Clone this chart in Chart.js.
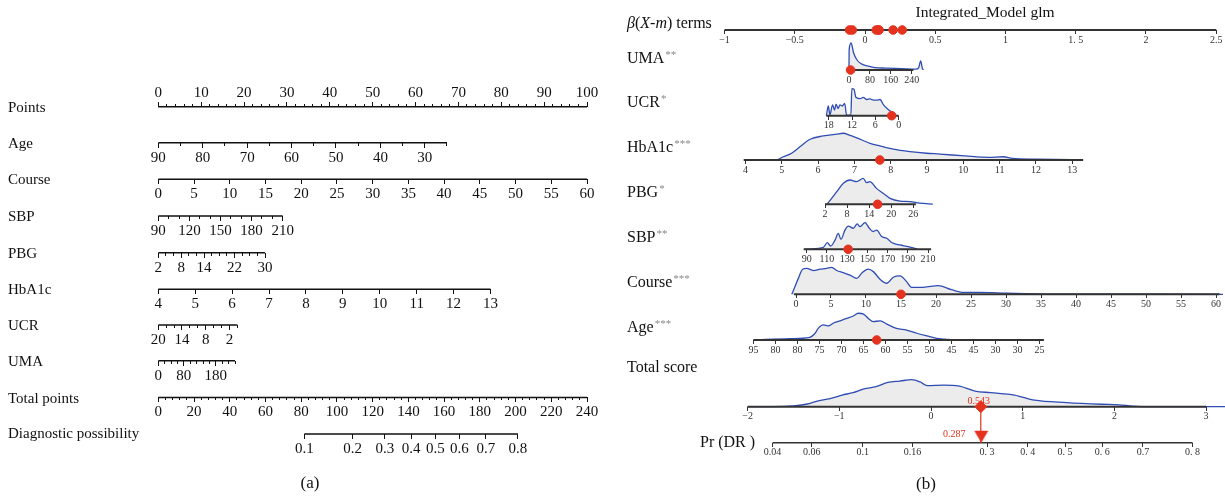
<!DOCTYPE html>
<html>
<head>
<meta charset="utf-8">
<script src="https://cdn.jsdelivr.net/npm/chart.js@4.4.1/dist/chart.umd.min.js"></script>
<style>
html, body { margin: 0; padding: 0; background: #fff; }
#wrap { position: relative; width: 1225px; height: 498px; font-family: "Liberation Serif", "DejaVu Serif", serif; color: #111; }
#wrap canvas { position: absolute; left: 0; top: 0; }
.lab { position: absolute; white-space: nowrap; line-height: 1; transform: translateY(-50%); }
.a { font-size: 15px; }
.b { font-size: 16px; }
.st { font-size: 11px; color: #888; position: relative; top: -5px; margin-left: 1px; }
.cap { position: absolute; font-size: 17px; line-height: 1; transform: translate(-50%, -50%); }
</style>
</head>
<body>
<div id="wrap">
  <canvas id="nomo" width="1225" height="498"></canvas>

  <div class="lab a" style="left:8px;top:106.7px">Points</div>
  <div class="lab a" style="left:8px;top:142.7px">Age</div>
  <div class="lab a" style="left:8px;top:179.3px">Course</div>
  <div class="lab a" style="left:8px;top:216px">SBP</div>
  <div class="lab a" style="left:8px;top:252.7px">PBG</div>
  <div class="lab a" style="left:8px;top:289.3px">HbA1c</div>
  <div class="lab a" style="left:8px;top:325px">UCR</div>
  <div class="lab a" style="left:8px;top:360.7px">UMA</div>
  <div class="lab a" style="left:8px;top:397.5px">Total points</div>
  <div class="lab a" style="left:8px;top:432.5px">Diagnostic possibility</div>
  <div class="cap" style="left:310px;top:482px">(a)</div>

  <div class="cap" style="left:985px;top:12px;font-size:15.5px">Integrated_Model glm</div>
  <div class="lab b" style="left:627px;top:23.3px"><i>β</i>(<i>X</i>-<i>m</i>) terms</div>
  <div class="lab b" style="left:627px;top:58.3px">UMA<span class="st">**</span></div>
  <div class="lab b" style="left:627px;top:101.7px">UCR<span class="st">*</span></div>
  <div class="lab b" style="left:627px;top:146.7px">HbA1c<span class="st">***</span></div>
  <div class="lab b" style="left:627px;top:191.7px">PBG<span class="st">*</span></div>
  <div class="lab b" style="left:627px;top:236.7px">SBP<span class="st">**</span></div>
  <div class="lab b" style="left:627px;top:281.7px">Course<span class="st">***</span></div>
  <div class="lab b" style="left:627px;top:326.7px">Age<span class="st">***</span></div>
  <div class="lab b" style="left:627px;top:366.7px">Total score</div>
  <div class="lab b" style="left:700px;top:441.7px">Pr (DR )</div>
  <div class="cap" style="left:926px;top:483px">(b)</div>
</div>

<script>
const FONT = '"Liberation Serif", "DejaVu Serif", serif';
const RED = '#e5321f', BLUE = '#2f4db3', FILL = '#ececec', DARK = '#333';
const W = 1225, H = 498;
const logit = p => Math.log(p / (1 - p));
const range = (a, b, s) => {
    const out = [];
    for (let v = a; s > 0 ? v <= b + 1e-9 : v >= b - 1e-9; v += s) out.push(+v.toFixed(6));
    return out;
};

// ---------- panel (a) tick labels ----------
const pointsTicks = [0, 10, 20, 30, 40, 50, 60, 70, 80, 90, 100];
const ageTicksA = [90, 80, 70, 60, 50, 40, 30];
const courseTicksA = [0, 5, 10, 15, 20, 25, 30, 35, 40, 45, 50, 55, 60];
const sbpTicksA = [90, 120, 150, 180, 210];
const pbgTicksA = [2, 8, 14, 22, 30];
const hba1cTicksA = [4, 5, 6, 7, 8, 9, 10, 11, 12, 13];
const ucrTicksA = [20, 14, 8, 2];
const umaTicksA = [0, 80, 180];
const totalTicksA = [0, 20, 40, 60, 80, 100, 120, 140, 160, 180, 200, 220, 240];
const diagTicksA = [0.1, 0.2, 0.3, 0.4, 0.5, 0.6, 0.7, 0.8];

// ---------- panel (b) tick labels ----------
const betaTicks = [-1, -0.5, 0, 0.5, 1, 1.5, 2, 2.5];
const betaLabels = ['−1', '−0.5', '0', '0.5', '1', '1. 5', '2', '2.5'];
const umaTicksB = [0, 80, 160, 240];
const ucrTicksB = [18, 12, 6, 0];
const hba1cTicksB = [4, 5, 6, 7, 8, 9, 10, 11, 12, 13];
const pbgTicksB = [2, 8, 14, 20, 26];
const sbpTicksB = [90, 110, 130, 150, 170, 190, 210];
const courseTicksB = [0, 5, 10, 15, 20, 25, 30, 35, 40, 45, 50, 55, 60];
const ageTicksB = [90, 85, 80, 75, 70, 65, 60, 55, 50, 45, 40, 35, 30, 25];
const ageLabelsB = ['95', '80', '80', '75', '70', '65', '60', '55', '50', '45', '45', '30', '30', '25'];
const totalTicksB = [-2, -1, 0, 1, 2, 3];
const totalLabelsB = ['−2', '−1', '0', '1', '2', '3'];
const prTicks = [0.04, 0.06, 0.1, 0.16, 0.3, 0.4, 0.5, 0.6, 0.7, 0.8];
const prLabels = ['0.04', '0.06', '0.1', '0.16', '0. 3', '0. 4', '0. 5', '0. 6', '0.7', '0. 8'];

// ---------- panel (b) densities: [value, relative density] ----------
const umaDensity = [[0, 0], [0.5, 0.74], [8, 1.0], [18, 0.62], [30, 0.38], [45, 0.24], [70, 0.15], [100, 0.09],
    [140, 0.07], [200, 0.05], [255, 0.03], [266, 0.08], [274, 0.34], [280, 0.07], [284, 0]];
const ucrDensity = [[18.6, 0], [18.1, 0.36], [17.7, 0.03], [17.0, 0.4], [16.5, 0.21], [16.1, 0.43], [15.6, 0.27],
    [15.1, 0.4], [14.5, 0.36], [13.9, 0.46], [13.4, 0.03], [12.3, 0.02], [12.05, 1.0], [11.5, 0.98], [11.0, 0.68],
    [9.9, 0.63], [9.1, 0.68], [8.2, 0.6], [7.4, 0.62], [6.5, 0.58], [5.7, 0.58], [4.8, 0.6], [3.9, 0.4],
    [2.7, 0.23], [1.5, 0.09], [1.0, 0]];
const hba1cDensity = [[4.0, 0], [4.3, 0], [4.86, 0.01], [5.04, 0.12], [5.27, 0.25], [5.5, 0.49], [5.78, 0.77],
    [6.14, 0.89], [6.51, 0.96], [6.69, 0.99], [6.88, 0.91], [7.15, 0.77], [7.43, 0.62], [7.7, 0.52], [8.07, 0.4],
    [8.53, 0.31], [8.99, 0.25], [9.36, 0.22], [10.05, 0.15], [10.7, 0.1], [11.1, 0.12], [11.35, 0.06],
    [12.0, 0.03], [13.0, 0.01], [13.3, 0]];
const pbgDensity = [[2.5, 0], [3.8, 0.22], [5.2, 0.47], [7.0, 0.78], [8.8, 0.9], [10.6, 0.84], [12.4, 0.96],
    [13.3, 0.8], [14.2, 0.84], [16.0, 0.59], [17.8, 0.41], [19.7, 0.22], [22.4, 0.12], [25.1, 0.1], [27.8, 0.04],
    [31.3, 0.01]];
const sbpDensity = [[88, 0], [93, 0.01], [106.4, 0.07], [110.4, 0.25], [113.7, 0.12], [118, 0.34], [121.2, 0.59],
    [123.9, 0.37], [127.8, 0.71], [131.1, 0.86], [136, 0.78], [140, 0.94], [142.7, 0.84], [147.6, 0.99],
    [151.9, 0.78], [155.8, 0.66], [159.2, 0.71], [164.1, 0.47], [169.1, 0.41], [174, 0.25], [182.2, 0.16],
    [190.4, 0.1], [197, 0.03], [200, 0]];
const courseDensity = [[-0.6, 0], [-0.14, 0.29], [0.33, 0.59], [0.95, 0.93], [1.52, 0.96], [2.48, 0.88],
    [3.43, 0.93], [4.38, 0.96], [5.1, 1.0], [5.81, 0.88], [6.76, 0.8], [7.71, 0.71], [8.67, 0.59], [9.38, 0.78],
    [10.33, 0.93], [11.05, 0.84], [12.0, 0.56], [12.95, 0.41], [13.9, 0.63], [14.86, 0.68], [15.8, 0.47],
    [16.5, 0.26], [18.2, 0.26], [20.3, 0.32], [22.2, 0.17], [23.9, 0.07], [26.2, 0.07], [30.2, 0.04],
    [35.8, 0.01], [45, 0.005], [61, 0]];
const ageDensity = [[90, 0], [81.7, 0.05], [77.2, 0.1], [76, 0.25], [75.3, 0.43], [74.1, 0.56], [73, 0.52],
    [71.9, 0.62], [70.3, 0.71], [68.8, 0.8], [67.3, 0.89], [66.2, 0.99], [65, 0.96], [63.9, 0.8], [62.8, 0.68],
    [61.2, 0.71], [59.7, 0.59], [57.5, 0.43], [55.2, 0.37], [52.9, 0.25], [50.6, 0.15], [48.4, 0.06],
    [45, 0.01], [40, 0]];
const totalDensity = [[-2, 0], [-1.6, 0.01], [-1.5, 0.03], [-1.35, 0.1], [-1.25, 0.2], [-1.1, 0.3], [-0.97, 0.43],
    [-0.85, 0.52], [-0.73, 0.66], [-0.6, 0.74], [-0.47, 0.9], [-0.34, 0.95], [-0.21, 1.0], [-0.12, 0.92],
    [-0.04, 0.78], [0.14, 0.8], [0.31, 0.76], [0.48, 0.58], [0.65, 0.52], [0.91, 0.43], [1.13, 0.24],
    [1.48, 0.15], [1.86, 0.09], [2.05, 0.07], [2.2, 0.02], [2.4, 0], [3.25, 0]];

// observation shown in (b), and its beta terms (UMA, UCR, HbA1c, PBG, SBP, Course, Age)
const obsValues = [6, 1.8, 7.7, 16.3, 131, 15, 62];
const betaTerms = [-0.09, 0.2, 0.1, 0.095, -0.11, 0.265, 0.08];
const scoreValue = 0.543;
const probValue = 0.287;

// ---------- scale helpers ----------
const scales = {};
const datasets = [];

function yAt(id, basePx, unitPx) {
    scales[id] = { type: 'linear', axis: 'y', display: false, min: -(H - basePx) / unitPx, max: basePx / unitPx };
}
function xAt(a, pa, b, pb) {
    const k = (pb - pa) / (b - a);
    const lo = a - pa / k, hi = a + (W - pa) / k;
    return k < 0
        ? { type: 'linear', axis: 'x', min: hi, max: lo, reverse: true }
        : { type: 'linear', axis: 'x', min: lo, max: hi };
}
function tickAxis(id, yId, vals, labels, o) {
    Object.assign(scales[id], {
        position: { [yId]: 0 },
        border: { display: false },
        grid: { display: true, drawOnChartArea: false, drawTicks: true, tickLength: o.tl, color: o.color, tickWidth: 1 },
        ticks: {
            display: !!labels, autoSkip: false, maxRotation: 0, minRotation: 0, padding: o.pad || 0,
            color: o.color, font: { family: FONT, size: o.size || 15 },
            callback: (v, i) => labels ? labels[i] : ''
        },
        afterBuildTicks: s => { s.ticks = vals.map(v => ({ value: v })); },
        afterFit: s => { s.paddingLeft = 0; s.paddingRight = 0; s.paddingTop = 0; s.paddingBottom = 0; }
    });
}
function axisLine(xId, yId, from, to, color, width) {
    datasets.push({
        data: [{ x: from, y: 0 }, { x: to, y: 0 }], xAxisID: xId, yAxisID: yId,
        borderColor: color, borderWidth: width, pointRadius: 0, order: 2
    });
}

// ---------- panel (a) layout ----------
const rowsA = [
    { y: 106.7, a: 0, pa: 158.3, b: 100, pb: 587, from: 0, to: 100, ticks: pointsTicks, minor: range(0, 100, 2), up: true },
    { y: 142.7, a: 90, pa: 158.3, b: 25, pb: 447, from: 90, to: 25, ticks: ageTicksA, minor: range(90, 25, -5) },
    { y: 179.3, a: 0, pa: 158.3, b: 60, pb: 587, from: 0, to: 60, ticks: courseTicksA },
    { y: 216, a: 90, pa: 158.3, b: 210, pb: 282.7, from: 90, to: 210, ticks: sbpTicksA, minor: range(90, 210, 10) },
    { y: 252.7, a: 2, pa: 158.3, b: 30, pb: 265, from: 2, to: 30, ticks: pbgTicksA, minor: range(2, 30, 2) },
    { y: 289.3, a: 4, pa: 158.3, b: 13, pb: 490.5, from: 4, to: 13, ticks: hba1cTicksA },
    { y: 325, a: 20, pa: 158.3, b: 0, pb: 237.3, from: 20, to: 0, ticks: ucrTicksA, minor: range(20, 0, -2) },
    { y: 360.7, a: 0, pa: 158.3, b: 240, pb: 235, from: 0, to: 240, ticks: umaTicksA, minor: range(0, 240, 20) },
    { y: 397.5, a: 0, pa: 158.3, b: 240, pb: 587, from: 0, to: 240, ticks: totalTicksA, minor: range(0, 240, 4) },
    { y: 434, a: 0, pa: 435.3, b: logit(0.8), pb: 517.9, from: logit(0.1), to: logit(0.8),
      ticks: diagTicksA.map(logit), labels: diagTicksA.map(String) }
];

rowsA.forEach((r, i) => {
    const yId = 'ya' + i, xId = 'xa' + i;
    yAt(yId, r.y, 1);
    scales[xId] = xAt(r.a, r.pa, r.b, r.pb);
    const labels = r.labels || r.ticks.map(String);
    tickAxis(xId, yId, r.ticks, labels, r.up
        ? { tl: -5, pad: -18, color: '#111', size: 15 }
        : { tl: 5, pad: 1, color: '#111', size: 15 });
    if (r.minor) {
        scales[xId + 'm'] = xAt(r.a, r.pa, r.b, r.pb);
        tickAxis(xId + 'm', yId, r.minor, null, { tl: r.up ? -3 : 3, color: '#111' });
    }
    axisLine(xId, yId, r.from, r.to, '#111', 1.5);
});

// ---------- panel (b) layout ----------
const rowsB = [
    { y: 70, a: 0, pa: 849, b: 240, pb: 911.8, from: 0, to: 246, ticks: umaTicksB, density: umaDensity },
    { y: 115.7, a: 0, pa: 898.7, b: 18, pb: 828.7, from: 18.6, to: 0, ticks: ucrTicksB, density: ucrDensity },
    { y: 160, a: 4, pa: 745.5, b: 13, pb: 1072.2, from: 3.95, to: 13.3, ticks: hba1cTicksB, density: hba1cDensity },
    { y: 204.3, a: 2, pa: 825, b: 26, pb: 913.3, from: 2, to: 26.7, ticks: pbgTicksB, density: pbgDensity },
    { y: 249.3, a: 90, pa: 806.7, b: 210, pb: 928.1, from: 87, to: 213, ticks: sbpTicksB, density: sbpDensity },
    { y: 294.3, a: 0, pa: 796, b: 60, pb: 1216, from: -0.3, to: 60.5, ticks: courseTicksB, density: courseDensity },
    { y: 340, a: 90, pa: 753.5, b: 25, pb: 1039.5, from: 90, to: 24, ticks: ageTicksB, labels: ageLabelsB, density: ageDensity }
];
const smallTicks = { tl: 4, pad: 0, color: DARK, size: 10 };

// beta terms axis
yAt('yBeta', 30, 27);
scales.xBeta = xAt(0, 865, 1, 1005.5);
tickAxis('xBeta', 'yBeta', betaTicks, betaLabels, smallTicks);
axisLine('xBeta', 'yBeta', -1, 2.5, DARK, 2);
datasets.push({
    data: betaTerms.map(v => ({ x: v, y: 0 })), xAxisID: 'xBeta', yAxisID: 'yBeta', showLine: false,
    pointRadius: 4.3, pointBackgroundColor: RED, pointBorderColor: RED, order: 0
});

rowsB.forEach((r, i) => {
    const yId = 'yb' + i, xId = 'xb' + i;
    yAt(yId, r.y, 27);
    scales[xId] = xAt(r.a, r.pa, r.b, r.pb);
    tickAxis(xId, yId, r.ticks, r.labels || r.ticks.map(String), smallTicks);
    datasets.push({
        data: r.density.map(d => ({ x: d[0], y: d[1] })), xAxisID: xId, yAxisID: yId,
        borderColor: BLUE, borderWidth: 1.3, backgroundColor: FILL, fill: { value: 0 },
        pointRadius: 0, cubicInterpolationMode: 'monotone', order: 3
    });
    axisLine(xId, yId, r.from, r.to, DARK, 2);
    datasets.push({
        data: [{ x: obsValues[i], y: 0 }], xAxisID: xId, yAxisID: yId, showLine: false,
        pointRadius: 4.3, pointBackgroundColor: RED, pointBorderColor: RED, order: 0
    });
});

// total score and probability
yAt('yTot', 406.7, 27);
scales.xTot = xAt(0, 931, 1, 1022.7);
tickAxis('xTot', 'yTot', totalTicksB, totalLabelsB, smallTicks);
datasets.push({
    label: 'totalDensity',
    data: totalDensity.map(d => ({ x: d[0], y: d[1] })), xAxisID: 'xTot', yAxisID: 'yTot',
    borderColor: BLUE, borderWidth: 1.3, backgroundColor: FILL, fill: { value: 0 },
    pointRadius: 0, cubicInterpolationMode: 'monotone', order: 3
});
axisLine('xTot', 'yTot', -2, 3, DARK, 2);

yAt('yPr', 442.7, 27);
scales.xPr = xAt(0, 1065, 1, 1157);
tickAxis('xPr', 'yPr', prTicks.map(logit), prLabels, smallTicks);
axisLine('xPr', 'yPr', logit(0.04), logit(0.8), DARK, 1.5);

// link from the score axis (1) down to the probability axis (0)
yAt('yLink', 442.7, 36);
datasets.push({
    data: [{ x: scoreValue, y: 1 }, { x: scoreValue, y: 0 }], xAxisID: 'xTot', yAxisID: 'yLink',
    borderColor: RED, borderWidth: 1.2, pointRadius: 0, order: 1
});
datasets.push({
    data: [{ x: scoreValue, y: 0 }], xAxisID: 'xTot', yAxisID: 'yTot', showLine: false,
    pointStyle: 'rectRot', pointRadius: 6, pointBackgroundColor: RED, pointBorderColor: RED, order: 0
});
const tri = document.createElement('canvas');
tri.width = 16; tri.height = 26;
const tctx = tri.getContext('2d');
tctx.fillStyle = RED;
tctx.beginPath(); tctx.moveTo(1, 1); tctx.lineTo(15, 1); tctx.lineTo(8, 13); tctx.closePath(); tctx.fill();
datasets.push({
    data: [{ x: logit(probValue), y: 0 }], xAxisID: 'xPr', yAxisID: 'yPr', showLine: false,
    pointStyle: tri, pointRadius: 8, order: 0
});

// red value labels, drawn right after the total score density so the markers sit on top
const markText = {
    id: 'markText',
    afterDatasetDraw(chart, args) {
        if (chart.data.datasets[args.index].label !== 'totalDensity') return;
        const { ctx, scales: s } = chart;
        ctx.save();
        ctx.fillStyle = RED;
        ctx.font = '10px ' + FONT;
        ctx.textAlign = 'center';
        ctx.textBaseline = 'middle';
        ctx.fillText(scoreValue.toFixed(3), s.xTot.getPixelForValue(scoreValue) - 2, s.yTot.getPixelForValue(0) - 5);
        ctx.fillText(probValue.toFixed(3), s.xPr.getPixelForValue(logit(probValue)) - 27, s.yPr.getPixelForValue(0) - 8);
        ctx.restore();
    }
};

new Chart(document.getElementById('nomo'), {
    type: 'line',
    data: { datasets },
    options: {
        responsive: false,
        animation: false,
        devicePixelRatio: 1,
        events: [],
        layout: { padding: 0, autoPadding: false },
        plugins: { legend: { display: false }, tooltip: { enabled: false } },
        scales
    },
    plugins: [markText]
});
</script>
</body>
</html>
